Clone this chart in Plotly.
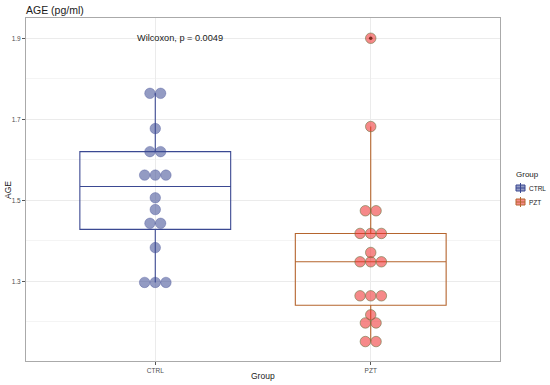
import numpy as np
import plotly.graph_objects as go

groups = ["CTRL", "PZT"]
ctrl_values = [1.764, 1.764, 1.677, 1.620, 1.620, 1.562, 1.562, 1.562, 1.506,
               1.477, 1.443, 1.443, 1.383, 1.297, 1.297, 1.297]
pzt_values = [1.900, 1.682, 1.474, 1.474, 1.418, 1.418, 1.418, 1.371, 1.348,
              1.348, 1.348, 1.264, 1.264, 1.264, 1.217, 1.197, 1.197, 1.151, 1.151]
y_ticks = [1.3, 1.5, 1.7, 1.9]
stat_label = "Wilcoxon, p = 0.0049"

line_colors = {"CTRL": "#3B4992", "PZT": "#B5652E"}
dot_fill = {"CTRL": "rgba(59,73,146,0.55)", "PZT": "rgba(238,40,40,0.55)"}
dot_edge = {"CTRL": "rgba(59,73,146,0.35)", "PZT": "rgba(110,120,70,0.6)"}

W, H = 550, 385
ML, MR, MT, MB = 26, 50, 18, 24
PW, PH = W - ML - MR, H - MT - MB


def px_x(px):
    return (px - ML) / PW


def px_y(py):
    return (H - MB - py) / PH


fig = go.Figure()
data = {"CTRL": ctrl_values, "PZT": pzt_values}
dot_step = 0.0495

for i, g in enumerate(groups):
    pos = i + 1
    vals = np.array(data[g])
    q1, med, q3 = np.percentile(vals, [25, 50, 75])
    iqr = q3 - q1
    lo = vals[vals >= q1 - 1.5 * iqr].min()
    hi = vals[vals <= q3 + 1.5 * iqr].max()
    outl = vals[(vals < lo) | (vals > hi)]
    fig.add_trace(go.Box(
        x=[pos], q1=[q1], median=[med], q3=[q3], lowerfence=[lo], upperfence=[hi],
        width=0.7, name=g, fillcolor="rgba(255,255,255,0)",
        line=dict(color=line_colors[g], width=1.1), whiskerwidth=0,
        boxpoints=False, showlegend=False,
    ))
    xs, ys = [], []
    uniq, counts = np.unique(vals, return_counts=True)
    for v, c in zip(uniq, counts):
        for k in range(c):
            xs.append(pos + (k - (c - 1) / 2) * dot_step)
            ys.append(v)
    fig.add_trace(go.Scatter(
        x=xs, y=ys, mode="markers", showlegend=False, hoverinfo="skip",
        marker=dict(size=10.5, color=dot_fill[g], line=dict(color=dot_edge[g], width=1)),
    ))
    if len(outl):
        fig.add_trace(go.Scatter(
            x=[pos] * len(outl), y=outl, mode="markers", showlegend=False,
            marker=dict(size=3.5, color="#7A2A1A"),
        ))

    # custom legend key (ggplot-like)
    cy = 188 + 14 * i
    x0, x1 = 516, 525
    fig.add_shape(type="rect", xref="paper", yref="paper",
                  x0=px_x(x0), x1=px_x(x1), y0=px_y(cy + 3), y1=px_y(cy - 3),
                  fillcolor=dot_fill[g], line=dict(color=line_colors[g], width=1))
    fig.add_shape(type="line", xref="paper", yref="paper",
                  x0=px_x(x0), x1=px_x(x1), y0=px_y(cy), y1=px_y(cy),
                  line=dict(color=line_colors[g], width=1))
    fig.add_shape(type="line", xref="paper", yref="paper",
                  x0=px_x((x0 + x1) / 2), x1=px_x((x0 + x1) / 2),
                  y0=px_y(cy + 5), y1=px_y(cy - 5),
                  line=dict(color=line_colors[g], width=1))
    fig.add_annotation(x=px_x(526.5), y=px_y(cy), xref="paper", yref="paper",
                       xanchor="left", yanchor="middle", text=g, showarrow=False,
                       font=dict(size=6.5, color="#1a1a1a"))

fig.add_annotation(x=px_x(513.5), y=px_y(174), xref="paper", yref="paper",
                   xanchor="left", yanchor="middle", text="Group", showarrow=False,
                   font=dict(size=8, color="#1a1a1a"))
fig.add_annotation(x=1.115, y=1.9, xref="x", yref="y", text=stat_label,
                   showarrow=False, font=dict(size=9.2, color="#1a1a1a"))
fig.add_annotation(x=px_x(24), y=px_y(10), xref="paper", yref="paper",
                   xanchor="left", yanchor="middle",
                   text="AGE (pg/ml)", showarrow=False,
                   font=dict(size=10.5, color="#1a1a1a"))
fig.add_annotation(x=0.5, y=px_y(376), xref="paper", yref="paper", yanchor="middle",
                   text="Group", showarrow=False, font=dict(size=8.5, color="#1a1a1a"))
fig.add_annotation(x=px_x(8), y=px_y(190), xref="paper", yref="paper",
                   xanchor="center", yanchor="middle",
                   text="AGE", textangle=-90, showarrow=False,
                   font=dict(size=8.5, color="#1a1a1a"))

fig.update_layout(
    width=W, height=H, showlegend=False,
    margin=dict(l=ML, r=MR, t=MT, b=MB, autoexpand=False),
    paper_bgcolor="white", plot_bgcolor="white",
    font=dict(family="Liberation Sans, Arial, sans-serif"),
    xaxis=dict(range=[0.4, 2.6], tickvals=[1, 2], ticktext=groups, automargin=False,
               showgrid=True, gridcolor="#EBEBEB", gridwidth=1, zeroline=False,
               ticks="outside", ticklen=3, tickcolor="#555555",
               tickfont=dict(size=6.5, color="#4D4D4D"),
               showline=True, linecolor="#AAAAAA", linewidth=1, mirror=True),
    yaxis=dict(range=[1.103, 1.950], tickvals=y_ticks, automargin=False,
               ticktext=[f"{t:.1f}" for t in y_ticks],
               showgrid=True, gridcolor="#EBEBEB", gridwidth=1, zeroline=False,
               minor=dict(tickvals=[1.2, 1.4, 1.6, 1.8], showgrid=True,
                          gridcolor="#F4F4F4", gridwidth=1),
               ticks="outside", ticklen=3, tickcolor="#555555",
               tickfont=dict(size=6.5, color="#4D4D4D"),
               showline=True, linecolor="#AAAAAA", linewidth=1, mirror=True),
)

fig.write_html("out.html", config={"displayModeBar": False},
               post_script="document.body.style.margin='0';")
